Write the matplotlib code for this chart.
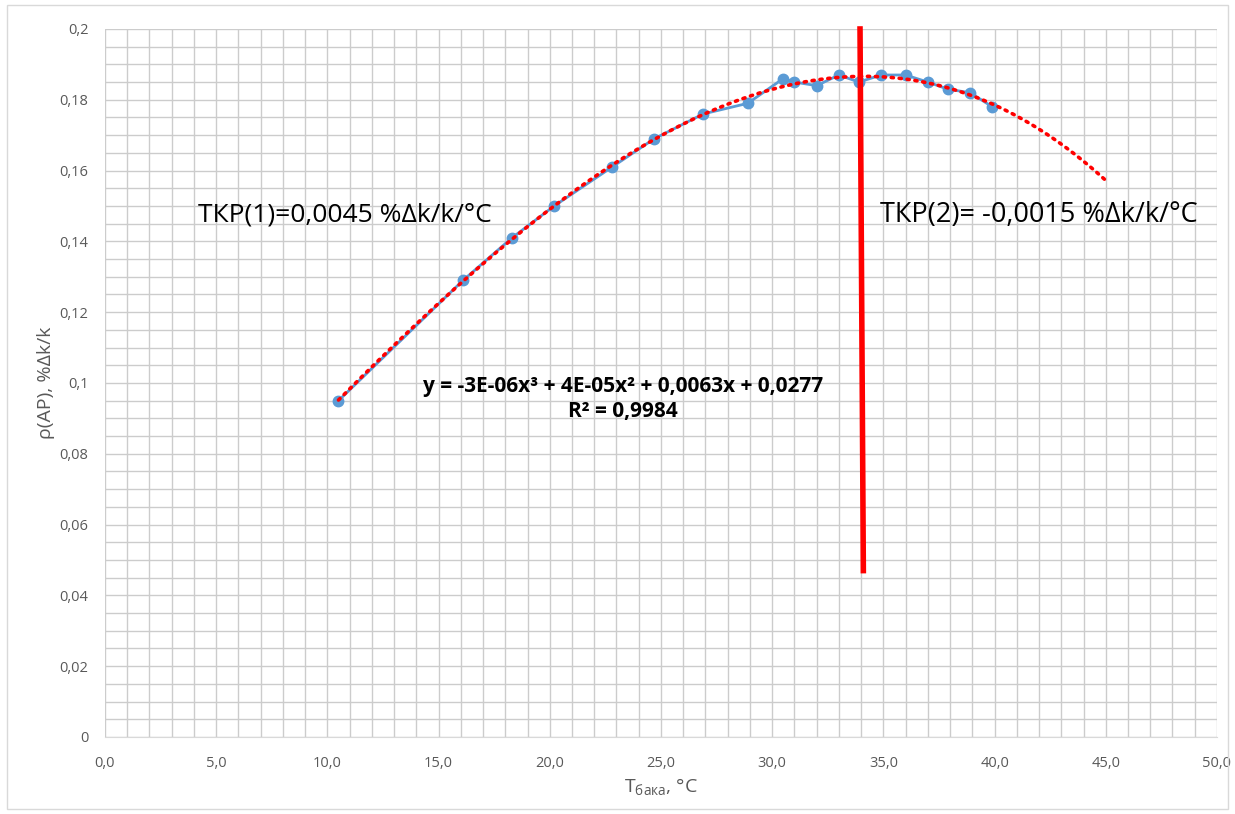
import numpy as np
import matplotlib.pyplot as plt
from matplotlib.patches import Rectangle
from matplotlib.ticker import MultipleLocator, FuncFormatter

# measured points: tank temperature vs reactivity
t_tank = [10.5, 16.1, 18.3, 20.2, 22.8, 24.7, 26.9, 28.9, 30.5, 31.0,
          32.0, 33.0, 33.9, 34.9, 36.0, 37.0, 37.9, 38.9, 39.9]
rho = [0.095, 0.129, 0.141, 0.150, 0.161, 0.169, 0.176, 0.179, 0.186, 0.185,
       0.184, 0.187, 0.185, 0.187, 0.187, 0.185, 0.183, 0.182, 0.178]
trend_end = 45.0
split_x = [33.95, 34.1]
split_y = [0.2, 0.047]

plt.rcParams['font.family'] = ['Open Sans', 'DejaVu Sans']

fig = plt.figure(figsize=(12.35, 8.14), dpi=100)
ax = fig.add_axes([0.085, 0.0946, 0.9004, 0.8698])

# cubic trendline like excel
coef = np.polyfit(t_tank, rho, 3)
xs = np.linspace(t_tank[0], trend_end, 200)
ax.plot(xs, np.polyval(coef, xs), color='#FF0000', lw=2.6, ls=(0, (0.6, 1.6)),
        dash_capstyle='round', zorder=4)
ax.plot(t_tank, rho, color='#5B9BD5', lw=2, marker='o', ms=7.5, zorder=3)
ax.plot(split_x, split_y, color='#FF0000', lw=4, zorder=5, clip_on=False)

ax.set_xlim(0, 50)
ax.set_ylim(0, 0.2)
ax.xaxis.set_major_locator(MultipleLocator(5))
ax.xaxis.set_minor_locator(MultipleLocator(1))
ax.yaxis.set_major_locator(MultipleLocator(0.02))
ax.yaxis.set_minor_locator(MultipleLocator(0.005))
ax.grid(True, which='both', color='#CCCCCC', lw=1)
ax.set_axisbelow(True)
for s in ax.spines.values():
    s.set_visible(False)
ax.spines['bottom'].set_visible(True)
ax.spines['bottom'].set_color('#D9D9D9')
ax.tick_params(which='both', length=0, colors='#595959', labelsize=10.5)
ax.tick_params(axis='x', pad=14)
ax.tick_params(axis='y', pad=12)
ax.xaxis.set_major_formatter(FuncFormatter(lambda v, p: f'{v:.1f}'.replace('.', ',')))
ax.yaxis.set_major_formatter(FuncFormatter(
    lambda v, p: '0' if v == 0 else f'{v:.2f}'.rstrip('0').replace('.', ',')))

ax.set_xlabel('T$_{\\mathregular{бака}}$, °C', fontsize=14, color='#595959', labelpad=4)
ax.set_ylabel('ρ(AP), %Δk/k', fontsize=14, color='#595959', labelpad=3)

ax.text(4.2, 0.1475, 'ТКР(1)=0,0045 %Δk/k/°C', fontsize=19, va='center', ha='left')
ax.text(34.85, 0.1475, 'ТКР(2)= -0,0015 %Δk/k/°C', fontsize=19.5, va='center', ha='left')
ax.text(23.3, 0.0955, 'y = -3E-06x³ + 4E-05x² + 0,0063x + 0,0277\nR² = 0,9984',
        fontsize=15, fontweight='bold', ha='center', va='center', linespacing=1.3)

fig.patches.append(Rectangle((0.006, 0.006), 0.988, 0.988, transform=fig.transFigure,
                             fill=False, edgecolor='#D9D9D9', lw=1))

fig.savefig('out.png', dpi=100)
